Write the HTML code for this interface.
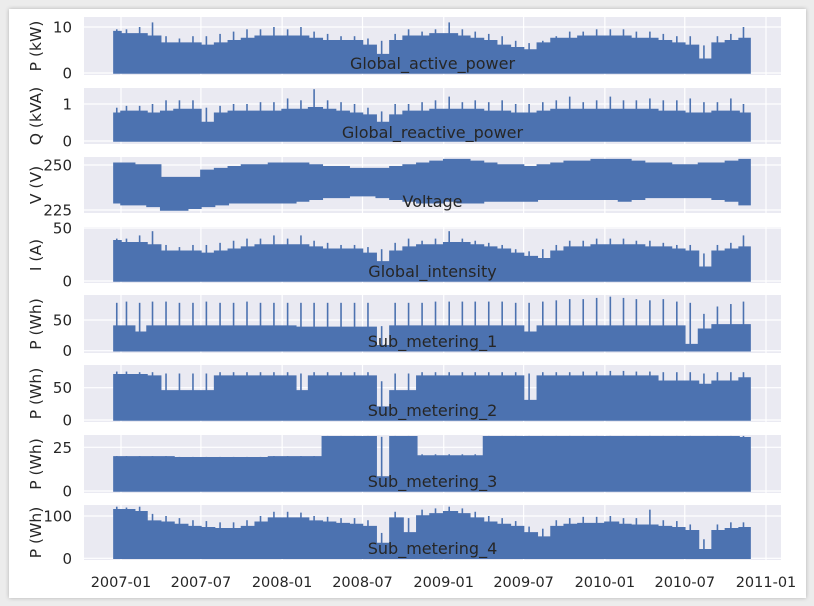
<!DOCTYPE html>
<html><head><meta charset="utf-8">
<style>
html,body{margin:0;padding:0;background:#ececec;width:814px;height:606px;overflow:hidden}
#card{position:absolute;left:9px;top:9px;width:797px;height:589px;background:#fff;box-shadow:0 0 4px rgba(0,0,0,0.25)}
svg{position:absolute;left:0;top:0}
text{font-family:"DejaVu Sans","Liberation Sans",sans-serif;fill:#262626}
</style></head>
<body>
<div id="card"></div>
<svg id="chart" width="814" height="606"></svg>
<script>
// months: Dec 2006 .. Nov 2010 (48 monthly values)
const xTickLabels = ["2007-01","2007-07","2008-01","2008-07","2009-01","2009-07","2010-01","2010-07","2011-01"];
const panelTitles = ["Global_active_power","Global_reactive_power","Voltage","Global_intensity","Sub_metering_1","Sub_metering_2","Sub_metering_3","Sub_metering_4"];
const yLabels = ["P (kW)","Q (kVA)","V (V)","I (A)","P (Wh)","P (Wh)","P (Wh)","P (Wh)"];
const yTicks = [[0,10],[0,1],[225,250],[0,50],[0,50],[0,50],[0,25],[0,100]];

const gapTypical = [9,8.5,8.5,8,6.5,6.5,6.5,6,6.5,7,7.5,8,8,8,8,7.5,7,7,7,6,4,7,8,8,8.5,8.5,8,7.5,7,6,5.5,5,6.5,7.5,7.5,8,8,8,8,7.5,7.5,7,6.5,6,3,6.5,7,7.5];
const gapPeaks = [9.5,9.5,10,11,8,7.5,8,8,8.5,9,9.5,9.5,10,9.5,10,9,8.5,8,8,7.5,7,8.5,9.5,9,9.5,11,9.5,9,8.5,8,7,6.5,7,8,9,9,9.5,9.5,9.5,9,9,8.5,8,8,6,8,8.5,10];
const grpTypical = [0.75,0.8,0.8,0.75,0.8,0.85,0.85,0.5,0.75,0.8,0.8,0.8,0.8,0.85,0.85,0.9,0.85,0.8,0.75,0.7,0.5,0.7,0.8,0.8,0.85,0.85,0.85,0.85,0.8,0.8,0.75,0.75,0.8,0.85,0.85,0.85,0.85,0.85,0.85,0.85,0.85,0.8,0.8,0.75,0.75,0.8,0.8,0.75];
const grpPeaks = [0.9,0.95,0.95,1.0,1.1,1.1,1.1,0.9,0.95,1.0,1.0,1.05,1.05,1.15,1.1,1.4,1.1,1.05,1.0,0.9,0.8,1.0,1.0,1.05,1.1,1.2,1.05,1.1,1.05,1.1,1.0,1.0,1.05,1.1,1.2,1.05,1.1,1.2,1.1,1.1,1.15,1.1,1.1,1.15,1.05,1.05,1.15,1.0];
const voltTop = [251,251,250,250,243,243,243,247,248,249,250,250,251,251,251,250,249,249,248,248,248,249,250,251,252,253,253,252,251,250,250,249,250,251,252,252,253,253,253,252,251,251,250,250,251,251,252,253];
const voltBottom = [229,228,228,227,225,225,226,227,228,229,229,229,229,229,230,231,232,232,233,233,232,231,230,229,229,230,229,229,230,230,230,230,231,231,231,231,231,231,230,231,232,232,232,232,232,231,230,228];
const giTypical = [38,36,36,34,28,28,28,26,28,30,32,34,34,34,34,32,30,30,30,26,18,28,32,34,34,36,36,34,32,30,26,23,21,28,32,32,34,34,34,34,32,32,30,28,13,28,30,32];
const giPeaks = [40,40,43,47,34,32,34,34,36,38,40,40,43,40,43,38,36,34,34,32,30,36,40,38,40,47,40,38,36,34,30,28,30,34,38,38,40,40,40,38,38,36,34,34,26,34,36,43];
const sm1Typical = [40,40,30,40,40,40,40,40,40,40,40,40,40,40,38,38,38,38,38,38,8,40,40,40,40,40,40,40,40,40,40,30,40,40,40,40,40,40,40,40,40,40,40,10,35,42,42,42];
const sm1Peaks = [78,80,78,80,80,78,78,80,78,78,80,78,78,78,78,78,78,78,78,78,40,78,78,78,80,80,80,80,80,80,78,78,80,82,84,84,86,88,86,84,82,84,80,78,60,72,76,80];
const sm2Typical = [70,70,70,68,45,45,45,45,68,68,68,68,68,68,45,68,68,68,68,68,20,45,45,68,68,68,68,68,68,68,68,30,68,68,68,68,68,68,68,68,68,60,60,60,55,60,60,65];
const sm2Peaks = [75,75,74,74,72,72,72,72,74,74,74,74,74,74,72,74,74,74,74,74,60,72,72,74,74,74,74,74,74,74,74,72,74,74,74,75,75,76,76,75,75,74,74,74,72,74,74,74];
const sm3Typical = [19.5,19.5,19.5,19.5,19.5,19,19,19,19,19,19,19,19.5,19.5,19.5,19.5,31,31,31,31,8,31,31,20,20,20,20,20,31,31,31,31,31,31,31,31,31,31,31,31,31,31,31,31,31,31,31,30.5];
const sm3Peaks = [20,20,20,20,20,19.5,19.5,19.5,19.5,19.5,19.5,19.5,20,20,20,20,31.5,31.5,31.5,31.5,31,31.5,31.5,21,21,21,21,21,31.5,31.5,31.5,31.5,31.5,31.5,31.5,31.5,31.5,31.5,31.5,31.5,31.5,31.5,31.5,31.5,31.5,31.5,31.5,31.5];
const sm4Typical = [115,115,110,88,85,80,75,72,70,70,75,85,95,95,95,88,85,82,80,75,35,95,60,100,105,110,105,95,85,80,75,60,50,75,80,82,82,85,80,78,78,75,72,65,20,65,70,72];
const sm4Peaks = [122,120,122,105,100,95,90,88,85,85,90,100,110,110,108,100,98,95,95,90,60,110,95,115,118,122,118,110,100,95,88,75,70,90,95,98,98,100,95,95,115,90,88,80,45,80,85,85];

const typicals = [gapTypical,grpTypical,voltTop,giTypical,sm1Typical,sm2Typical,sm3Typical,sm4Typical];
const peaksAll = [gapPeaks,grpPeaks,voltTop,giPeaks,sm1Peaks,sm2Peaks,sm3Peaks,sm4Peaks];
const bottoms = [null,null,voltBottom,null,null,null,null,null];

// layout (pixel geometry, not data)
const AX_L = 84, AX_R = 781;
const geom = [
 {top:17,bot:75,y0:73,y1:27},
 {top:88,bot:144,y0:141,y1:104},
 {top:157,bot:213,y0:210,y1:165},
 {top:227,bot:283,y0:281,y1:228},
 {top:295,bot:353,y0:350.7,y1:320},
 {top:365,bot:422,y0:420,y1:387.7},
 {top:435,bot:493,y0:491,y1:447.3},
 {top:505,bot:560,y0:558.3,y1:516}
];
const T0 = Date.UTC(2007,0,1), T1 = Date.UTC(2011,0,1);
const DATA_START = Date.UTC(2006,11,16), DATA_END = Date.UTC(2010,10,26);
function xScale(t){ return 121 + (t - T0)/(T1 - T0)*(766-121); }
function yScale(p, v){ const g=geom[p], t=yTicks[p]; return g.y0 + (v - t[0])/(t[1]-t[0])*(g.y1-g.y0); }
function monthStart(i){ return Date.UTC(2006, 11+i, 1); }

const NS = "http://www.w3.org/2000/svg";
const svg = document.getElementById('chart');
function mk(tag, attrs, parent){ const e=document.createElementNS(NS,tag); for(const k in attrs) e.setAttribute(k,attrs[k]); (parent||svg).appendChild(e); return e; }

for(let p=0;p<8;p++){
  const g = geom[p];
  const grp = mk('g',{});
  
  
  const bg = mk('rect',{x:AX_L,y:g.top,width:AX_R-AX_L,height:g.bot-g.top,fill:'#eaeaf2'},grp);
  
  
  xTickLabels.forEach((lab,k)=>{
    const [yy,mm]=lab.split('-').map(Number);
    const x = xScale(Date.UTC(yy,mm-1,1));
    const gl = mk('line',{x1:x,x2:x,y1:g.top,y2:g.bot,stroke:'#fff','stroke-width':1.2},grp);
    
    
  });
  yTicks[p].forEach(v=>{
    const y = yScale(p,v);
    const gl = mk('line',{x1:AX_L,x2:AX_R,y1:y,y2:y,stroke:'#fff','stroke-width':1.2},grp);
    
    
    const tl = mk('text',{x:72,y:y+5.5,'text-anchor':'end','font-size':15},grp);
    tl.textContent = v;
    
    
  });
  const top = typicals[p], bot = bottoms[p];
  let up = [], down = [];
  for(let i=0;i<top.length;i++){
    const a = Math.max(monthStart(i), DATA_START), b = Math.min(monthStart(i+1), DATA_END);
    if(b<=a) continue;
    const xa = xScale(a), xb = xScale(b);
    const yt = yScale(p, top[i]);
    up.push([xa,yt],[xb,yt]);
    const yb = bot ? yScale(p, bot[i]) : yScale(p, 0);
    down.push([xa,yb],[xb,yb]);
  }
  const pts = up.concat(down.reverse()).map(q=>q[0].toFixed(1)+','+q[1].toFixed(1)).join(' ');
  const area = mk('polygon',{points:pts,fill:'#4c72b0',stroke:'#4c72b0','stroke-width':1.5,'stroke-linejoin':'miter'},grp);
  
  
  const pk = peaksAll[p];
  for(let i=0;i<pk.length;i++){
    const a = Math.max(monthStart(i), DATA_START), b = Math.min(monthStart(i+1), DATA_END);
    if(b<=a) continue;
    const xm = xScale(a + (b-a)*0.4);
    const yb = bot ? yScale(p, bot[i]) : yScale(p, 0);
    const sp = mk('line',{x1:xm,x2:xm,y1:yb,y2:yScale(p,pk[i]),stroke:'#4c72b0','stroke-width':1.6},grp);
    
    
  }
  const tt = mk('text',{x:(AX_L+AX_R)/2,y:g.bot-6,'text-anchor':'middle','font-size':16},grp);
  tt.textContent = panelTitles[p];
  
  
  const cy = (g.top+g.bot)/2;
  const yl = mk('text',{x:0,y:0,'text-anchor':'middle','font-size':15.5,transform:'translate(41,'+cy+') rotate(-90)'},grp);
  yl.textContent = yLabels[p];
  
  
}
xTickLabels.forEach(lab=>{
  const [yy,mm]=lab.split('-').map(Number);
  const x = xScale(Date.UTC(yy,mm-1,1));
  const t = mk('text',{x:x,y:587,'text-anchor':'middle','font-size':14.5});
  t.textContent = lab;
  
  
});
</script>
</body></html>
